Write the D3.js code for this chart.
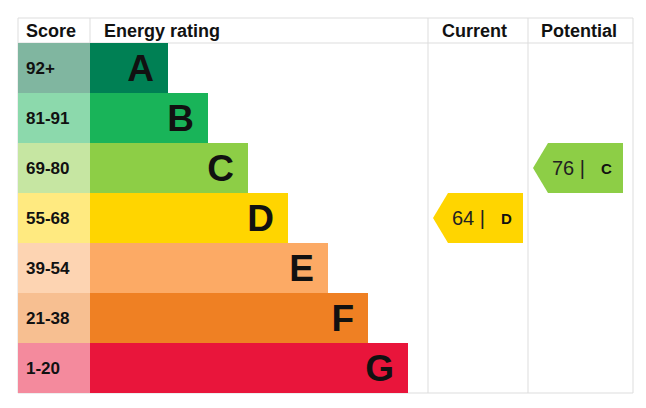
<!DOCTYPE html>
<html><head><meta charset="utf-8">
<script src="https://cdn.jsdelivr.net/npm/d3@7"></script>
<style>body{margin:0;background:#fff}</style>
</head><body><div id="chart"></div>
<script>
// Données
const bands = ["A", "B", "C", "D", "E", "F", "G"];
const scores = ["92+", "81-91", "69-80", "55-68", "39-54", "21-38", "1-20"];
const barColors = ["#008054", "#19b459", "#8dce46", "#ffd500", "#fcaa65", "#ef8023", "#e9153b"];
const scoreColors = ["#80b6a0", "#8cd9ac", "#c6e6a2", "#ffea80", "#fdd4b2", "#f7bf91", "#f48a9d"];
const currentValue = 64, currentBand = "D";
const potentialValue = 76, potentialBand = "C";

const width = 646, height = 408;
const svg = d3.select("#chart").append("svg").attr("width", width).attr("height", height);

const y = d3.scaleBand().domain(bands).range([43, 393]);
// largeur des barres : A la plus courte, G la plus longue
const w = d3.scaleLinear().domain([0, 6]).range([78, 318]);
const x0 = 90;
const font = "Arial, 'Liberation Sans', sans-serif";

// Grille
const grid = "#dddddd";
[[18, 18, 633, 18], [18, 43, 633, 43], [18, 393, 633, 393]].forEach(l =>
  svg.append("line").attr("x1", l[0]).attr("y1", l[1]).attr("x2", l[2]).attr("y2", l[3]).attr("stroke", grid));
[18, 90, 428, 528, 633].forEach(xx =>
  svg.append("line").attr("x1", xx).attr("y1", 18).attr("x2", xx).attr("y2", 393).attr("stroke", grid));

// En-têtes
const head = [["Score", 26], ["Energy rating", 104], ["Current", 442], ["Potential", 541]];
head.forEach(h => svg.append("text").attr("x", h[1]).attr("y", 37).text(h[0])
  .attr("font-family", font).attr("font-weight", "bold").attr("font-size", 18).attr("fill", "#111"));

// Lignes
bands.forEach((b, i) => {
  svg.append("rect").attr("x", 18).attr("y", y(b)).attr("width", x0 - 18).attr("height", y.bandwidth()).attr("fill", scoreColors[i]);
  svg.append("text").attr("x", 26).attr("y", y(b) + 31).text(scores[i])
    .attr("font-family", font).attr("font-weight", "bold").attr("font-size", 17).attr("fill", "#111");
  svg.append("rect").attr("x", x0).attr("y", y(b)).attr("width", w(i)).attr("height", y.bandwidth()).attr("fill", barColors[i]);
  svg.append("text").attr("x", x0 + w(i) - 14).attr("y", y(b) + 38).attr("text-anchor", "end").text(b)
    .attr("font-family", font).attr("font-weight", "bold").attr("font-size", 37).attr("fill", "#111");
});

// Flèches
function arrow(xl, band, value) {
  const yt = y(band), h = y.bandwidth(), xr = xl + 90;
  const col = barColors[bands.indexOf(band)];
  svg.append("path").attr("d", `M${xl},${yt + h / 2} L${xl + 15},${yt} L${xr},${yt} L${xr},${yt + h} L${xl + 15},${yt + h} Z`).attr("fill", col);
  svg.append("text").attr("x", xl + 19).attr("y", yt + 32).text(value + " |")
    .attr("font-family", font).attr("font-size", 20).attr("fill", "#222");
  svg.append("text").attr("x", xl + 68).attr("y", yt + 31).text(band)
    .attr("font-family", font).attr("font-weight", "bold").attr("font-size", 15).attr("fill", "#111");
}
arrow(433, currentBand, currentValue);
arrow(533, potentialBand, potentialValue);
</script></body></html>
